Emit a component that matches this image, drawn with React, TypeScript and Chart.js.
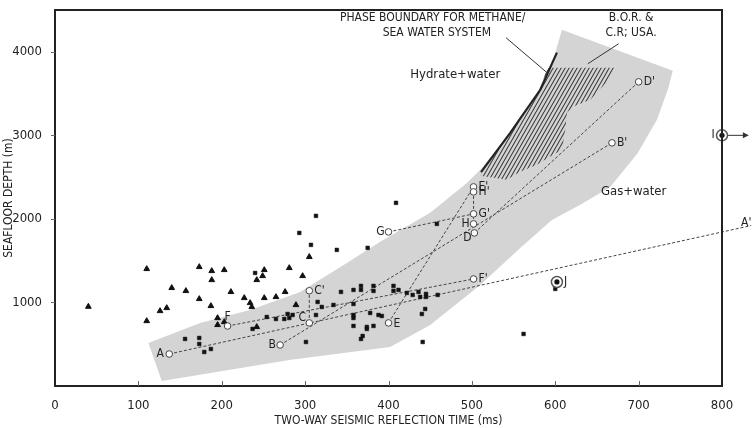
import React, { useEffect, useRef } from "react";
import { Chart, registerables } from "chart.js";

Chart.register(...registerables);

// ---------- data ----------
const xTickValues = [0, 100, 200, 300, 400, 500, 600, 700, 800];
const yTickValues = [1000, 2000, 3000, 4000];

// gray band (gas / hydrate field), outline in data units (ms, m)
const bandOutline: [number, number][] = [
  [128, 60], [281, 311], [402, 467], [450, 731], [510, 1210], [558, 1653],
  [596, 1988], [630, 2168], [666, 2383], [699, 2790], [722, 3186], [735, 3545],
  [741, 3772], [608, 4263], [596, 3844], [582, 3545], [546, 3030], [510, 2587],
  [494, 2431], [450, 2072], [390, 1725], [350, 1473], [294, 1126], [234, 910],
  [174, 754], [112, 515],
];

// hatched area (B.O.R. & C.R; USA)
const hatchOutline: [number, number][] = [
  [510, 2515], [546, 3030], [582, 3545], [590, 3808], [672, 3808], [662, 3641],
  [642, 3425], [621, 3341], [614, 3269], [612, 3066], [608, 2826], [597, 2766],
  [578, 2647], [558, 2563], [542, 2467],
];

// phase boundary for methane / sea water
const phaseBoundary: [number, number][] = [
  [511, 2560], [546, 3030], [582, 3545], [602, 3990],
];

// triangles
const triangles: [number, number][] = [
  [40, 950], [110, 1401], [173, 1425], [188, 1377], [203, 1389], [251, 1389],
  [281, 1413], [249, 1317], [242, 1269], [188, 1269], [140, 1174], [157, 1138],
  [211, 1126], [173, 1042], [227, 1054], [251, 1054], [265, 1066], [276, 1126],
  [234, 994], [236, 946], [187, 958], [134, 934], [126, 898], [289, 970],
  [110, 778], [195, 814], [195, 731], [203, 766], [242, 707], [305, 1545],
  [297, 1317],
];

// squares
const squares: [number, number][] = [
  [293, 1832], [313, 2036], [409, 2192], [307, 1689], [338, 1629], [375, 1653],
  [458, 1940], [240, 1353], [156, 563], [173, 575], [173, 503], [179, 407],
  [187, 443], [237, 683], [254, 826], [265, 802], [275, 802], [279, 862],
  [281, 814], [285, 850], [343, 1126], [358, 1150], [367, 1198], [367, 1150],
  [382, 1198], [382, 1138], [406, 1198], [406, 1138], [412, 1150], [422, 1114],
  [429, 1090], [436, 1126], [438, 1066], [445, 1102], [445, 1066], [459, 1090],
  [315, 1006], [320, 946], [334, 970], [358, 982], [313, 850], [358, 850],
  [358, 814], [378, 874], [388, 850], [392, 838], [358, 719], [374, 707],
  [374, 683], [382, 719], [369, 599], [367, 563], [444, 922], [440, 862],
  [301, 527], [441, 527], [562, 623], [600, 1162],
];

// labelled survey points
const pointNames = ["A", "A'", "B", "B'", "C", "C'", "D", "D'", "E", "E'", "F", "F'", "G", "G'", "H", "H'"];
const pointX = [137, 835, 270, 668, 305, 305, 503, 700, 400, 502, 207, 502, 400, 502, 502, 502];
const pointY = [383, 1920, 491, 2910, 755, 1140, 1832, 3640, 755, 2383, 718, 1281, 1844, 2060, 1940, 2323];
const segments: [string, string][] = [
  ["A", "A'"], ["B", "B'"], ["C", "C'"], ["D", "D'"], ["E", "E'"], ["F", "F'"], ["G", "G'"], ["H", "H'"],
];

// special sites
const siteNames = ["J", "I"];
const siteX = [602, 800];
const siteY = [1245, 3000];
const arrowEndX = 831;

// ---------- layout / style config ----------
const FONT = "'DejaVu Sans Condensed', 'Liberation Sans Narrow', 'DejaVu Sans', sans-serif";
const INK = "#222";

const labelOffsets: Record<string, [number, number, CanvasTextAlign]> = {
  A: [-9, 0, "center"], "A'": [-5, -3, "center"],
  B: [-8, 0, "center"], "B'": [5, 0, "left"],
  C: [-7, -5, "center"], "C'": [5, 0, "left"],
  D: [-7, 5, "center"], "D'": [5, 0, "left"],
  E: [5, 1, "left"], "E'": [5, 0, "left"],
  F: [0, -9, "center"], "F'": [5, 0, "left"],
  G: [-8, 0, "center"], "G'": [5, 0, "left"],
  H: [-8, 0, "center"], "H'": [5, 0, "left"],
  J: [7, 0, "left"], I: [-9, 0, "center"],
};

const annotations = [
  { text: "PHASE BOUNDARY FOR METHANE/", x: 453, y: 4400, size: 12 },
  { text: "SEA WATER SYSTEM", x: 458, y: 4225, size: 12 },
  { text: "B.O.R. &", x: 691, y: 4400, size: 12 },
  { text: "C.R; USA.", x: 691, y: 4225, size: 12 },
  { text: "Hydrate+water", x: 480, y: 3725, size: 13 },
  { text: "Gas+water", x: 694, y: 2323, size: 13 },
];
const leaders: [number, number, number, number][] = [
  [541, 4168, 589, 3760],
  [676, 4096, 639, 3856],
];

const toXY = (arr: [number, number][]) => arr.map(([x, y]) => ({ x, y }));

const overlayPlugin = {
  id: "overlay",
  afterDraw(chart: any) {
    const { ctx, chartArea, scales } = chart;
    const xs = scales.x;
    const ys = scales.y;
    const px = (v: number) => xs.getPixelForValue(v);
    const py = (v: number) => ys.getPixelForValue(v);
    ctx.save();
    // frame
    ctx.strokeStyle = INK;
    ctx.lineWidth = 2;
    ctx.strokeRect(chartArea.left, chartArea.top, chartArea.right - chartArea.left, chartArea.bottom - chartArea.top);
    // ticks
    ctx.lineWidth = 1;
    ctx.strokeStyle = "#666";
    xTickValues.forEach((v) => {
      if (v === 0 || v === 800) return;
      const x = Math.round(px(v)) + 0.5;
      ctx.beginPath();
      ctx.moveTo(x, chartArea.bottom);
      ctx.lineTo(x, chartArea.bottom - 5);
      ctx.stroke();
    });
    yTickValues.forEach((v) => {
      const y = Math.round(py(v)) + 0.5;
      ctx.beginPath();
      ctx.moveTo(chartArea.left - 4, y);
      ctx.lineTo(chartArea.left, y);
      ctx.stroke();
    });
    // arrow head at the end of site I's arrow
    const ax = px(arrowEndX);
    const ay = py(siteY[1]);
    ctx.fillStyle = "#333";
    ctx.beginPath();
    ctx.moveTo(ax + 1, ay);
    ctx.lineTo(ax - 5, ay - 3);
    ctx.lineTo(ax - 5, ay + 3);
    ctx.closePath();
    ctx.fill();
    // leaders
    ctx.strokeStyle = "#333";
    ctx.lineWidth = 1;
    leaders.forEach(([x1, y1, x2, y2]) => {
      ctx.beginPath();
      ctx.moveTo(px(x1), py(y1));
      ctx.lineTo(px(x2), py(y2));
      ctx.stroke();
    });
    // annotation texts
    ctx.fillStyle = INK;
    ctx.textBaseline = "middle";
    ctx.textAlign = "center";
    annotations.forEach((a) => {
      ctx.font = `${a.size}px ${FONT}`;
      ctx.fillText(a.text, px(a.x), py(a.y));
    });
    // point labels
    ctx.font = `12px ${FONT}`;
    pointNames.forEach((n, i) => {
      const [dx, dy, al] = labelOffsets[n];
      ctx.textAlign = al;
      ctx.fillText(n, px(pointX[i]) + dx, py(pointY[i]) + dy);
    });
    siteNames.forEach((n, i) => {
      const [dx, dy, al] = labelOffsets[n];
      ctx.textAlign = al;
      ctx.fillText(n, px(siteX[i]) + dx, py(siteY[i]) + dy);
    });
    ctx.restore();
  },
};

export default function App() {
  const ref = useRef<HTMLCanvasElement | null>(null);

  useEffect(() => {
    const canvas = ref.current!;
    const c2 = canvas.getContext("2d")!;
    const pc = document.createElement("canvas");
    pc.width = 4;
    pc.height = 7;
    const p = pc.getContext("2d")!;
    p.strokeStyle = "#3a3a3a";
    p.lineWidth = 1.1;
    for (let k = -1; k <= 1; k++) {
      p.beginPath();
      p.moveTo(k * 4, 7);
      p.lineTo(k * 4 + 4, 0);
      p.stroke();
    }
    const hatch = c2.createPattern(pc, "repeat");

    const idx = (n: string) => pointNames.indexOf(n);
    const segDatasets = segments.map(([a, b]) => ({
      type: "scatter" as const,
      data: [
        { x: pointX[idx(a)], y: pointY[idx(a)] },
        { x: pointX[idx(b)], y: pointY[idx(b)] },
      ],
      showLine: true,
      borderColor: "#444",
      borderWidth: 1,
      borderDash: [3, 2],
      pointRadius: 0,
      clip: false as any,
      order: 5,
    }));

    const circleIdx = pointNames.map((_, i) => i).filter((i) => pointNames[i] !== "A'");

    const chart = new Chart(canvas, {
      type: "scatter",
      data: {
        datasets: [
          {
            type: "line",
            data: toXY(bandOutline),
            fill: "shape",
            backgroundColor: "#d4d4d4",
            borderWidth: 0,
            borderColor: "rgba(0,0,0,0)",
            pointRadius: 0,
            tension: 0,
            order: 10,
          } as any,
          {
            type: "line",
            data: toXY(hatchOutline),
            fill: "shape",
            backgroundColor: hatch,
            borderWidth: 0,
            borderColor: "rgba(0,0,0,0)",
            pointRadius: 0,
            tension: 0,
            order: 9,
          } as any,
          {
            type: "line",
            data: toXY(phaseBoundary),
            fill: false,
            borderColor: "#222",
            borderWidth: 2.2,
            pointRadius: 0,
            tension: 0,
            order: 8,
          } as any,
          ...segDatasets,
          {
            data: toXY(triangles),
            pointStyle: "triangle",
            pointRadius: 3.3,
            backgroundColor: "#111",
            borderColor: "#111",
            borderWidth: 1,
            order: 3,
          },
          {
            data: toXY(squares),
            pointStyle: "rect",
            pointRadius: 2.6,
            backgroundColor: "#111",
            borderColor: "#111",
            borderWidth: 0.5,
            order: 3,
          },
          {
            data: circleIdx.map((i) => ({ x: pointX[i], y: pointY[i] })),
            pointStyle: "circle",
            pointRadius: 3.3,
            backgroundColor: "#fff",
            borderColor: "#444",
            borderWidth: 1,
            order: 2,
          },
          {
            data: [
              { x: siteX[1], y: siteY[1] },
              { x: arrowEndX - 5, y: siteY[1] },
            ],
            showLine: true,
            borderColor: "#333",
            borderWidth: 1,
            pointRadius: 0,
            clip: false as any,
            order: 2,
          } as any,
          {
            data: siteX.map((x, i) => ({ x, y: siteY[i] })),
            pointStyle: "circle",
            pointRadius: 5.5,
            backgroundColor: "#fff",
            borderColor: "#555",
            borderWidth: 1.5,
            clip: false as any,
            order: 1,
          } as any,
          {
            data: siteX.map((x, i) => ({ x, y: siteY[i] })),
            pointStyle: "circle",
            pointRadius: 2.6,
            backgroundColor: "#111",
            borderColor: "#111",
            borderWidth: 0,
            clip: false as any,
            order: 0,
          } as any,
        ],
      },
      options: {
        responsive: false,
        animation: false,
        events: [],
        layout: { padding: { left: 0, top: 10, right: 31, bottom: 0 } },
        plugins: {
          legend: { display: false },
          tooltip: { enabled: false },
        },
        scales: {
          x: {
            type: "linear",
            min: 0,
            max: 800,
            grid: { display: false },
            border: { display: false },
            afterBuildTicks: (s: any) => {
              s.ticks = xTickValues.map((value) => ({ value }));
            },
            ticks: {
              padding: 4,
              color: INK,
              font: { family: FONT, size: 13 },
              callback: (v: any) => String(v),
            },
            title: {
              display: true,
              text: "TWO-WAY SEISMIC REFLECTION TIME (ms)",
              color: INK,
              font: { family: FONT, size: 12 },
              padding: { top: 0, bottom: 0 },
            },
            afterFit: (s: any) => {
              s.height = 42;
              s.paddingLeft = 0;
              s.paddingRight = 0;
            },
          },
          y: {
            type: "linear",
            min: 0,
            max: 4500,
            grid: { display: false },
            border: { display: false },
            afterBuildTicks: (s: any) => {
              s.ticks = yTickValues.map((value) => ({ value }));
            },
            ticks: {
              padding: 5,
              color: INK,
              font: { family: FONT, size: 13 },
              callback: (v: any) => String(v),
            },
            title: {
              display: true,
              text: "SEAFLOOR DEPTH (m)",
              color: INK,
              font: { family: FONT, size: 12 },
              padding: { top: 2, bottom: 0 },
            },
            afterFit: (s: any) => {
              s.width = 55;
              s.paddingTop = 0;
              s.paddingBottom = 0;
            },
          },
        },
      },
      plugins: [overlayPlugin],
    } as any);
    return () => chart.destroy();
  }, []);

  return (
    <div style={{ position: "fixed", left: 0, top: 0, width: 753, height: 428, background: "#fff" }}>
      <canvas ref={ref} width={753} height={428} style={{ width: 753, height: 428, display: "block" }} />
    </div>
  );
}
